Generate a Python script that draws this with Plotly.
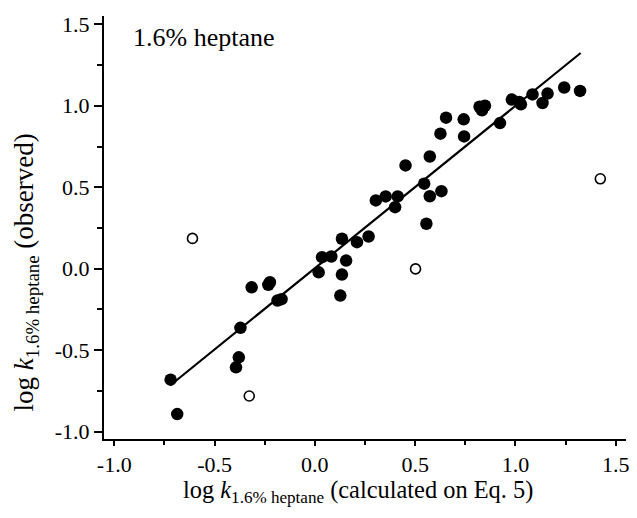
import plotly.graph_objects as go

# filled points: calculated (x) vs observed (y)
calc_filled = [-0.719, -0.686, -0.393, -0.379, -0.371, -0.315, -0.232, -0.224, -0.186, -0.166,
               0.019, 0.036, 0.082, 0.135, 0.127, 0.156, 0.135, 0.210, 0.268, 0.304,
               0.353, 0.413, 0.400, 0.452, 0.545, 0.556, 0.573, 0.573, 0.631, 0.626,
               0.654, 0.742, 0.744, 0.821, 0.848, 0.833, 0.923, 0.982, 1.019, 1.027,
               1.085, 1.135, 1.160, 1.243, 1.322]
obs_filled = [-0.681, -0.892, -0.605, -0.544, -0.363, -0.114, -0.099, -0.083, -0.195, -0.187,
              -0.022, 0.071, 0.075, -0.036, -0.165, 0.050, 0.184, 0.163, 0.198, 0.419,
              0.444, 0.444, 0.378, 0.634, 0.522, 0.276, 0.445, 0.689, 0.476, 0.829,
              0.927, 0.917, 0.812, 0.994, 1.000, 0.972, 0.894, 1.038, 1.023, 1.009,
              1.070, 1.017, 1.075, 1.112, 1.091]

# open points (outliers)
calc_open = [-0.610, -0.327, 0.502, 1.423]
obs_open = [0.186, -0.781, -0.001, 0.552]

# regression line
fit_x = [-0.72, 1.325]
fit_y = [-0.715, 1.324]

x_tickvals = [-1.0, -0.5, 0.0, 0.5, 1.0, 1.5]
x_ticktext = ["-1.0", "-0.5", "0.0", "0.5", "1.0", "1.5"]
y_tickvals = [-1.0, -0.5, 0.0, 0.5, 1.0, 1.5]
y_ticktext = ["-1.0", "-0.5", "0.0", "0.5", "1.0", "1.5"]
minor_vals = [-0.75, -0.25, 0.25, 0.75, 1.25]

FONT = "Liberation Serif, Times New Roman, serif"

fig = go.Figure()
fig.add_trace(go.Scatter(x=fit_x, y=fit_y, mode="lines",
                         line=dict(color="black", width=2.2), showlegend=False))
fig.add_trace(go.Scatter(x=calc_filled, y=obs_filled, mode="markers",
                         marker=dict(symbol="circle", size=12.5, color="black",
                                     line=dict(width=0)), showlegend=False))
fig.add_trace(go.Scatter(x=calc_open, y=obs_open, mode="markers",
                         marker=dict(symbol="circle-open", size=10, color="black",
                                     line=dict(width=1.6)), showlegend=False))

fig.update_layout(
    width=637, height=518,
    margin=dict(l=104, r=8, t=16, b=79),
    paper_bgcolor="white", plot_bgcolor="white",
    font=dict(family=FONT, color="black", size=22),
    xaxis=dict(range=[-1.051, 1.551], showgrid=False, zeroline=False,
               showline=True, linecolor="black", linewidth=2,
               ticks="outside", ticklen=5, tickwidth=1.5, tickcolor="black",
               tickmode="array", tickvals=x_tickvals, ticktext=x_ticktext,
               tickfont=dict(family=FONT, size=22, color="black"),
               minor=dict(tickmode="array", tickvals=minor_vals, ticks="outside",
                          ticklen=4, tickwidth=1.5, tickcolor="black", showgrid=False)),
    yaxis=dict(range=[-1.045, 1.551], showgrid=False, zeroline=False,
               showline=True, linecolor="black", linewidth=2,
               ticks="outside", ticklen=8, tickwidth=1.5, tickcolor="black",
               tickmode="array", tickvals=y_tickvals, ticktext=y_ticktext,
               tickfont=dict(family=FONT, size=22, color="black"),
               minor=dict(tickmode="array", tickvals=minor_vals, ticks="outside",
                          ticklen=5, tickwidth=1.5, tickcolor="black", showgrid=False)),
    annotations=[
        dict(text="1.6% heptane", xref="paper", yref="paper", x=0.051, y=0.988,
             xanchor="left", yanchor="top", showarrow=False,
             font=dict(family=FONT, size=26, color="black")),
        dict(text="log <i>k</i><sub>1.6% heptane</sub> (calculated on Eq. 5)",
             xref="paper", yref="paper", x=0.486, y=-0.124,
             xanchor="center", yanchor="middle", showarrow=False,
             font=dict(family=FONT, size=24.4, color="black")),
        dict(text="log <i>k</i><sub>1.6% heptane</sub> (observed)",
             xref="paper", yref="paper", x=-0.15, y=0.393, textangle=-90,
             xanchor="center", yanchor="middle", showarrow=False,
             font=dict(family=FONT, size=27, color="black")),
    ],
)

fig.write_html("out.html")
